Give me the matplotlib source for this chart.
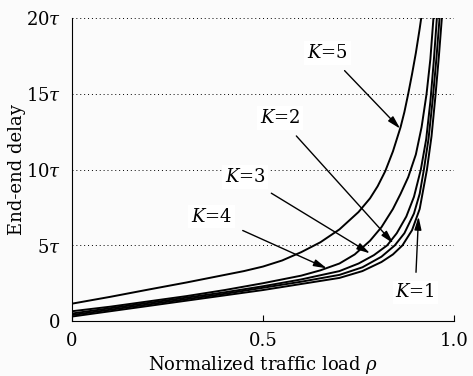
import matplotlib
matplotlib.use("Agg")
import matplotlib.pyplot as plt

plt.rcParams["font.family"] = ["DejaVu Serif"]
plt.rcParams["mathtext.fontset"] = "dejavuserif"

# curves, delay in units of tau
k5_x = [0, 0.1, 0.2, 0.3, 0.4, 0.45, 0.5, 0.55, 0.6, 0.65, 0.7, 0.75, 0.78, 0.8, 0.82, 0.84, 0.86, 0.87, 0.88, 0.89, 0.9, 0.91, 0.914]
k5_y = [1.15, 1.6, 2.08, 2.55, 3.05, 3.3, 3.6, 4.0, 4.55, 5.2, 6.05, 7.2, 8.1, 8.9, 9.9, 11.2, 12.8, 13.8, 15.0, 16.3, 17.7, 19.3, 20]

k4_x = [0, 0.1, 0.2, 0.3, 0.4, 0.5, 0.6, 0.65, 0.7, 0.74, 0.78, 0.81, 0.84, 0.86, 0.88, 0.9, 0.915, 0.928, 0.938, 0.946]
k4_y = [0.65, 0.95, 1.3, 1.65, 2.05, 2.5, 3.0, 3.35, 3.8, 4.4, 5.3, 6.2, 7.4, 8.4, 9.5, 11.0, 12.8, 15.0, 17.3, 20]

k3_x = [0, 0.1, 0.2, 0.3, 0.4, 0.5, 0.6, 0.7, 0.75, 0.79, 0.825, 0.85, 0.875, 0.895, 0.913, 0.927, 0.938, 0.947, 0.955]
k3_y = [0.5, 0.85, 1.2, 1.55, 1.9, 2.3, 2.75, 3.3, 3.8, 4.35, 5.0, 5.8, 6.9, 8.2, 10.0, 12.0, 14.5, 17.2, 20]

k2_x = [0, 0.1, 0.2, 0.3, 0.4, 0.5, 0.6, 0.7, 0.76, 0.81, 0.845, 0.87, 0.895, 0.91, 0.921, 0.933, 0.944, 0.954, 0.962]
k2_y = [0.4, 0.75, 1.1, 1.45, 1.8, 2.2, 2.6, 3.05, 3.55, 4.25, 5.0, 5.8, 7.1, 8.4, 10.0, 12.0, 14.6, 17.4, 20]

k1_x = [0, 0.1, 0.2, 0.3, 0.4, 0.5, 0.6, 0.7, 0.76, 0.81, 0.84, 0.865, 0.89, 0.91, 0.929, 0.941, 0.951, 0.96, 0.968]
k1_y = [0.3, 0.65, 1.0, 1.35, 1.7, 2.05, 2.45, 2.85, 3.3, 3.9, 4.4, 5.0, 6.0, 7.4, 10.0, 12.2, 14.8, 17.4, 20]

x_ticks = [0, 0.5, 1.0]
x_labels = ["0", "0.5", "1.0"]
y_ticks = [0, 5, 10, 15, 20]
y_labels = ["0", r"5$\tau$", r"10$\tau$", r"15$\tau$", r"20$\tau$"]

# label, text position, arrow tip
labels = [r"$K$=1", r"$K$=2", r"$K$=3", r"$K$=4", r"$K$=5"]
text_xy = [(0.898, 1.9), (0.545, 13.4), (0.453, 9.5), (0.366, 6.9), (0.669, 17.7)]
tip_xy = [(0.907, 6.9), (0.841, 5.13), (0.780, 4.47), (0.667, 3.48), (0.859, 12.7)]

fig = plt.figure(figsize=(4.73, 3.76), dpi=100)
fig.patch.set_facecolor("#fbfbfb")
ax = fig.add_axes([0.152, 0.146, 0.808, 0.806])
ax.set_facecolor("#fbfbfb")

for xs, ys in [(k1_x, k1_y), (k2_x, k2_y), (k3_x, k3_y), (k4_x, k4_y), (k5_x, k5_y)]:
    ax.plot(xs, ys, color="black", lw=1.4, solid_joinstyle="round")

for y in y_ticks[1:]:
    ax.axhline(y, color="black", lw=0.7, ls=(0, (1, 3)), zorder=0)

for lab, (tx, ty), (hx, hy) in zip(labels, text_xy, tip_xy):
    ax.annotate(lab, xy=(hx, hy), xytext=(tx, ty), fontsize=13, ha="center", va="center",
                bbox=dict(boxstyle="square,pad=0.15", fc="white", ec="none"),
                arrowprops=dict(arrowstyle="-|>,head_length=0.6,head_width=0.16",
                                color="black", lw=1.0, shrinkA=6, shrinkB=0))

ax.set_xlim(0, 1.0)
ax.set_ylim(0, 20)
ax.set_xticks(x_ticks)
ax.set_xticklabels(x_labels)
ax.set_yticks(y_ticks)
ax.set_yticklabels(y_labels)
ax.tick_params(axis="both", direction="in", labelsize=13, length=4, width=0.8)
ax.tick_params(axis="x", pad=8)
ax.tick_params(axis="y", length=0, pad=8)
ax.spines["top"].set_visible(False)
ax.spines["right"].set_visible(False)
for s in ["left", "bottom"]:
    ax.spines[s].set_linewidth(0.8)

ax.set_xlabel(r"Normalized traffic load $\rho$", fontsize=13, labelpad=3)
ax.set_ylabel("End-end delay", fontsize=13, labelpad=0)

fig.savefig("out.png", dpi=100, facecolor=fig.get_facecolor())
